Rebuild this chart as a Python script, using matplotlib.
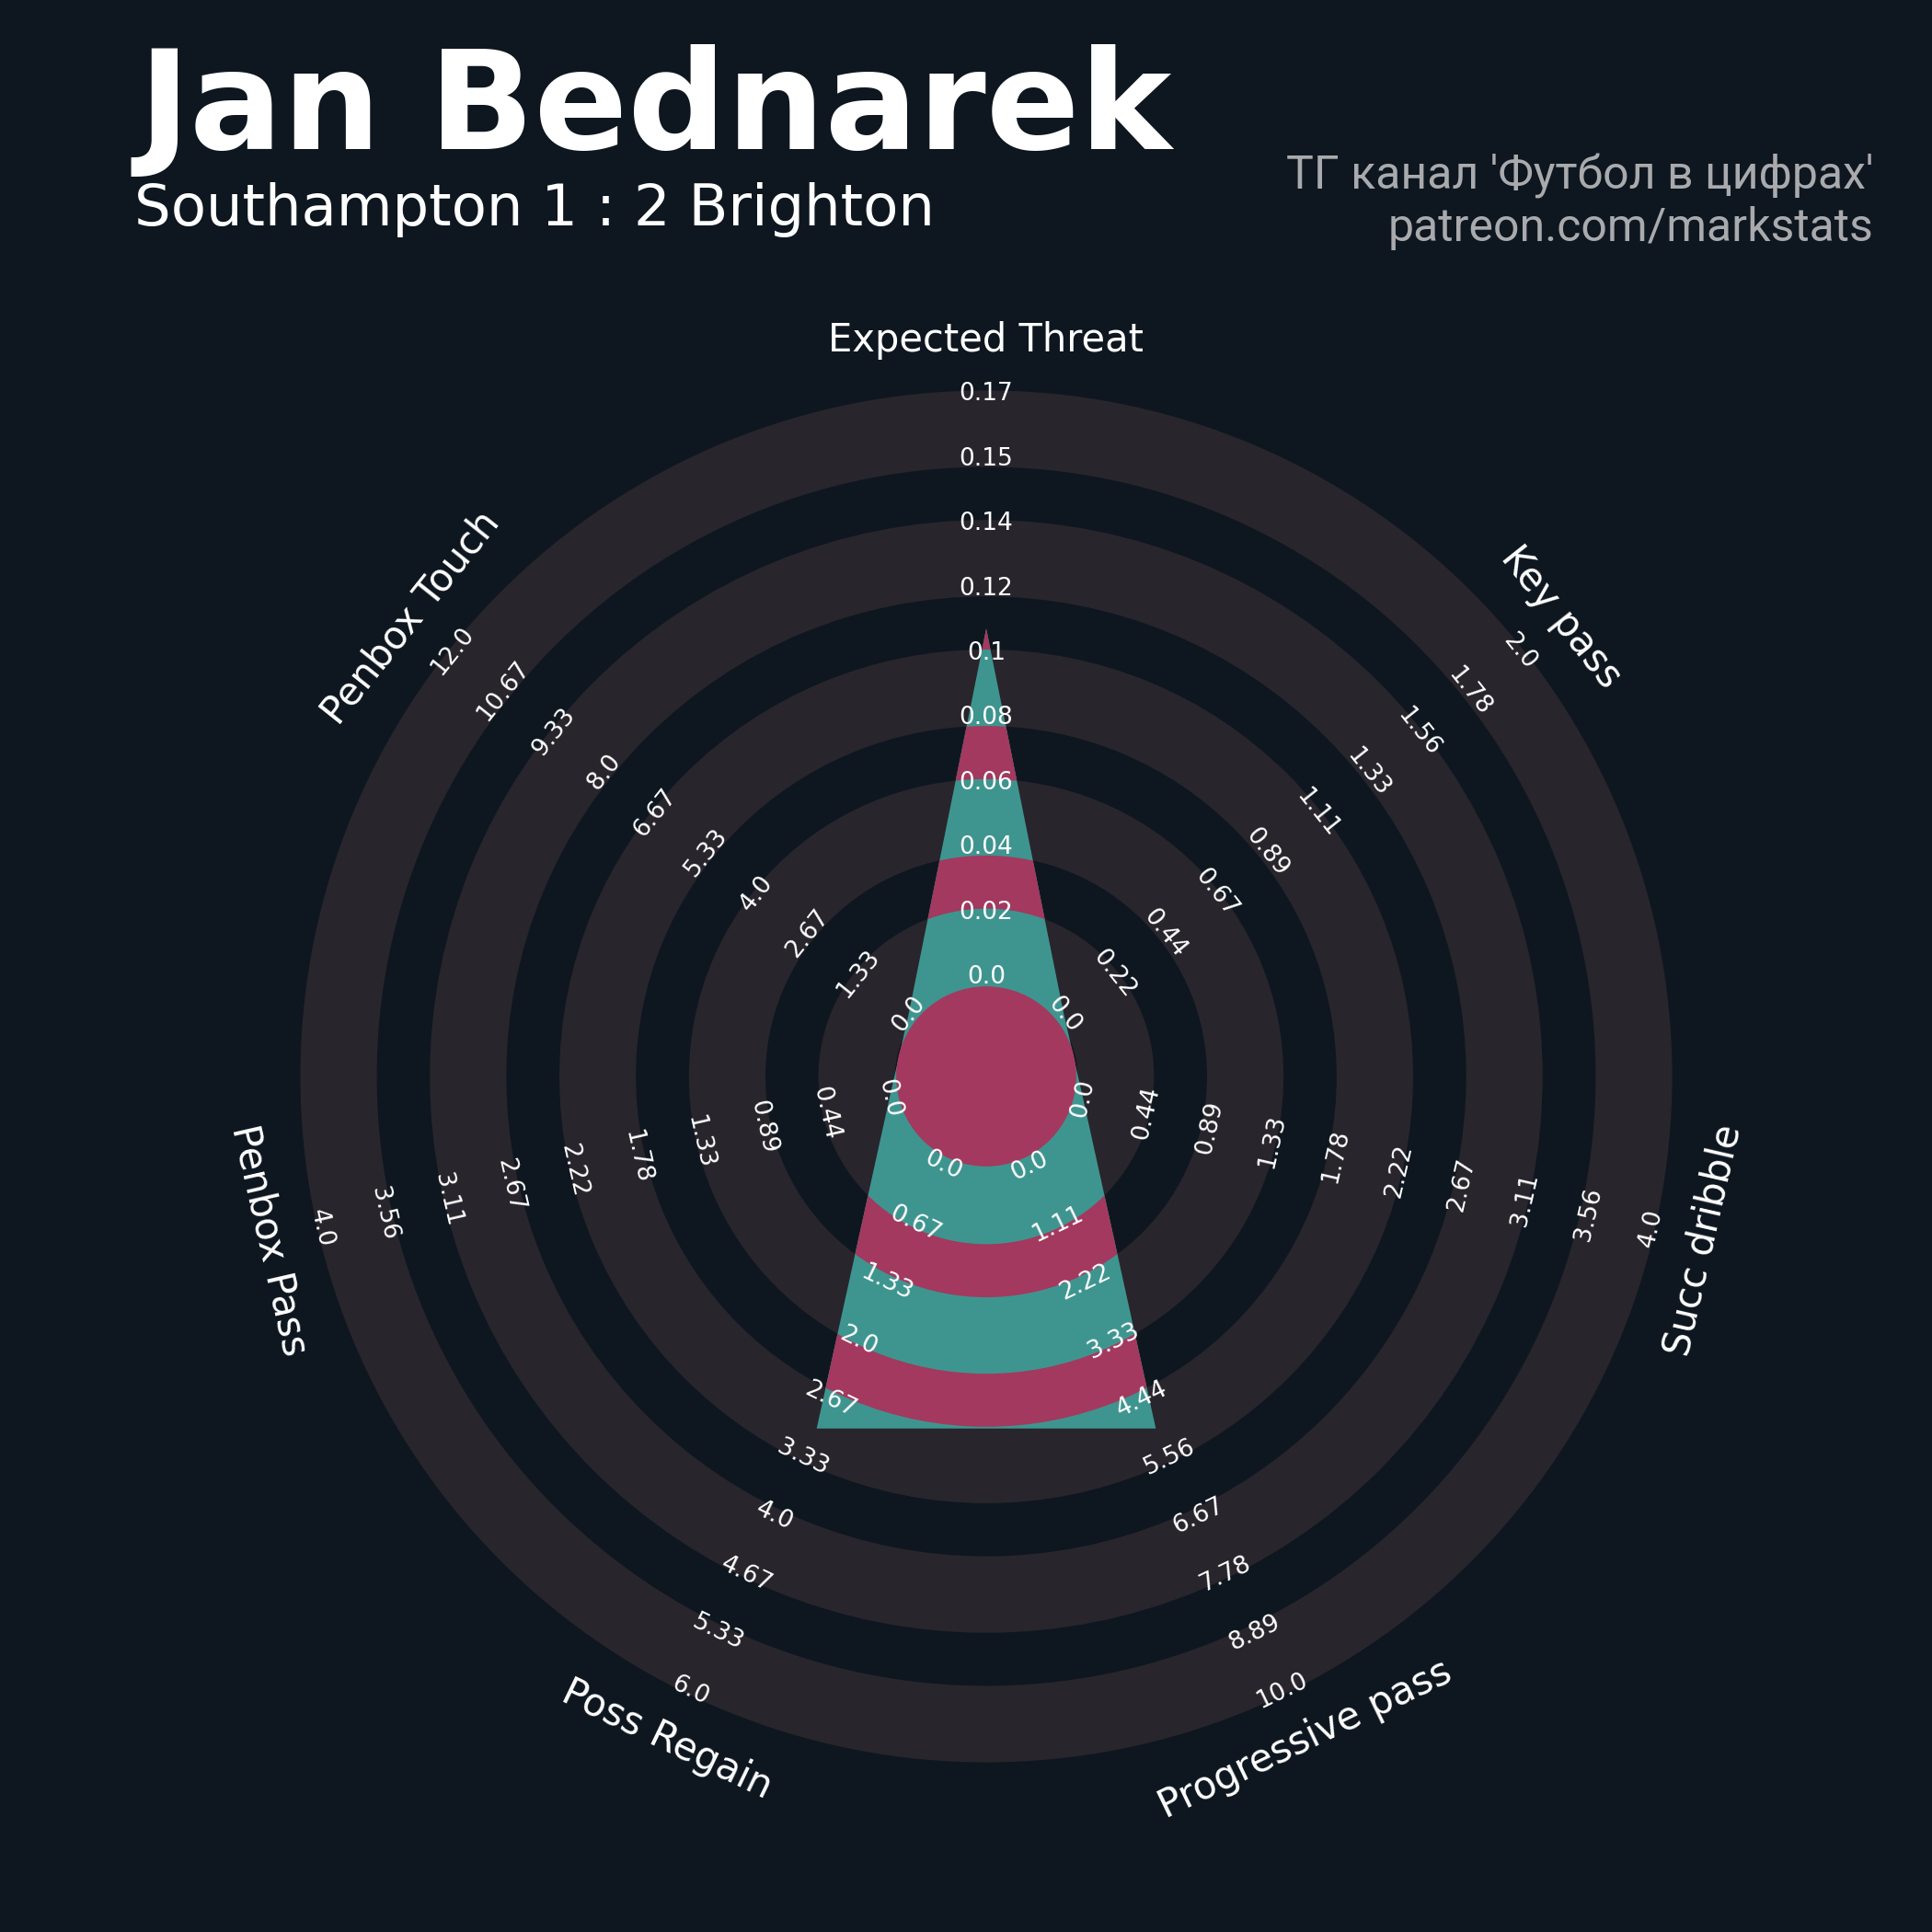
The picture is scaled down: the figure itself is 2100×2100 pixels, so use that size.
import numpy as np
import matplotlib
matplotlib.use("Agg")
import matplotlib.pyplot as plt
from matplotlib.patches import Polygon, Wedge, Circle

# data
params = ['Expected Threat', 'Key pass', 'Succ dribble', 'Progressive pass',
          'Poss Regain', 'Penbox Pass', 'Penbox Touch']
low = [0, 0, 0, 0, 0, 0, 0]
high = [0.174, 2, 4, 10, 6, 4, 12]
values = [0.104, 0, 0, 5, 3, 0, 0]

title = 'Jan Bednarek'
subtitle = 'Southampton 1 : 2 Brighton'
credits = ["ТГ канал 'Футбол в цифрах'", 'patreon.com/markstats']

bg = '#0e1720'
band = '#29252c'
teal = '#3e958f'
red = '#a3395e'

# geometry (radius units, one unit = one tick step)
u = 70.4            # pixels per unit
cx, cy = 1072, 1170 # centre in pixels
r0 = 1.534          # radius of value zero
n_ticks = 10
inner = 1.39        # centre disc
half_w = 0.59       # half width of the light rings

fig = plt.figure(figsize=(21, 21), dpi=100, facecolor=bg)
ax = fig.add_axes([0, 0, 1, 1])
ax.set_facecolor(bg)
ax.set_xlim(-cx / u, (2100 - cx) / u)
ax.set_ylim(-(2100 - cy) / u, cy / u)
ax.set_aspect('equal')
ax.axis('off')

# background rings
for c in [2, 4, 6, 8, 10]:
    ax.add_patch(Wedge((0, 0), c + half_w, 0, 360, width=2 * half_w,
                       fc=band, ec='none', lw=0, zorder=1))

angles = np.deg2rad(90 - np.arange(len(params)) * 360 / len(params))

rad = [r0 + (n_ticks - 1) * (v - lo) / (hi - lo) for v, lo, hi in zip(values, low, high)]
verts = np.column_stack([np.array(rad) * np.cos(angles), np.array(rad) * np.sin(angles)])
poly = Polygon(verts, closed=True, fc=teal, ec='none', lw=0, zorder=2)
ax.add_patch(poly)

for c in [3, 5, 7, 9]:
    w = Wedge((0, 0), c + (1 - half_w), 0, 360, width=2 * (1 - half_w),
              fc=red, ec='none', lw=0, zorder=3)
    w.set_clip_path(poly)
    ax.add_patch(w)

ax.add_patch(Circle((0, 0), inner, fc=red, ec='none', lw=0, zorder=4))


def rot(a):
    d = np.rad2deg(a)
    d = (d + 180) % 360 - 180
    return d - 90 if d >= 0 else d + 90


# tick labels
for a, lo, hi in zip(angles, low, high):
    ticks = np.round(np.linspace(lo, hi, n_ticks), 2)
    for i, t in enumerate(ticks):
        r = r0 + i
        ax.text(r * np.cos(a), r * np.sin(a), str(float(t)), color='white',
                fontsize=19, ha='center', va='center', rotation=rot(a),
                rotation_mode='anchor', zorder=6)

# parameter labels
for a, p in zip(angles, params):
    r = 11.36
    ax.text(r * np.cos(a), r * np.sin(a), p, color='white', fontsize=30,
            ha='center', va='center', rotation=rot(a), rotation_mode='anchor', zorder=6)

fig.text(150 / 2100, 1 - 162 / 2100, title, color='white', fontsize=108,
         fontweight='bold', ha='left', va='baseline')
fig.text(146 / 2100, 1 - 245 / 2100, subtitle, color='white', fontsize=45,
         ha='left', va='baseline')
fig.text(2036 / 2100, 1 - 205 / 2100, credits[0], color='#a9aaad', fontsize=36,
         family='Roboto', ha='right', va='baseline')
fig.text(2036 / 2100, 1 - 262 / 2100, credits[1], color='#a9aaad', fontsize=36,
         family='Roboto', ha='right', va='baseline')

fig.savefig('out.png', dpi=100, facecolor=bg)
